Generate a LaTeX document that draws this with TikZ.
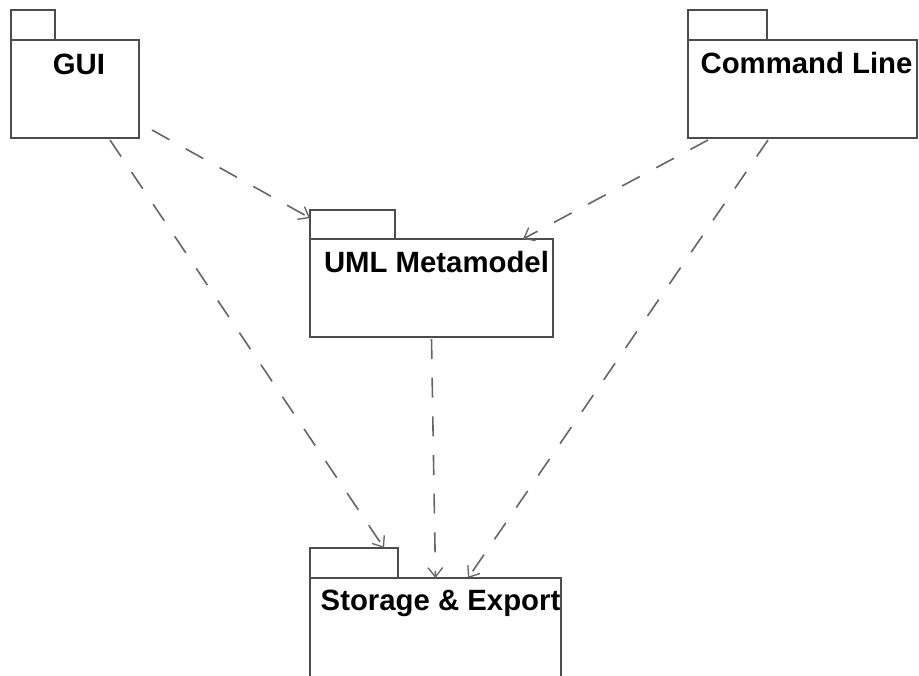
\documentclass[tikz,border=0pt]{standalone}
\usepackage{fontspec}
\setmainfont{Liberation Sans}
\usetikzlibrary{positioning,calc,arrows.meta}

\begin{document}
\begin{tikzpicture}[x=0.75pt, y=-0.75pt,
  pkgbody/.style={draw=black!70, line width=1pt, rectangle, inner sep=0pt, outer sep=0pt, anchor=north west, minimum height=73.5pt},
  pkgtab/.style={draw=black!70, line width=1pt, rectangle, inner sep=0pt, outer sep=0pt, anchor=south west, minimum height=22.5pt},
  pkgname/.style={inner sep=0pt, anchor=base, font=\fontsize{22}{26}\selectfont\bfseries},
  dep/.style={draw=black!60, line width=1.2pt, dash pattern=on 15pt off 14pt, -{Straight Barb[length=7pt, width=11pt, line width=1pt]}}]
  \clip (0,0) rectangle (919,675);

  % GUI
  \node[pkgbody, minimum width=96pt] (gui) at (11,40) {};
  \node[pkgtab, minimum width=33pt] (guitab) at (gui.north west) {};
  \node[pkgname] (guiname) at ($(gui.north)+(4,34)$) {GUI};

  % Command Line
  \node[pkgbody, minimum width=171.75pt] (cmd) at (688,40) {};
  \node[pkgtab, minimum width=59.25pt] (cmdtab) at (cmd.north west) {};
  \node[pkgname] (cmdname) at ($(cmd.north)+(4,33)$) {Command Line};

  % UML Metamodel
  \node[pkgbody, minimum width=182.25pt] (uml) at (310,239) {};
  \node[pkgtab, minimum width=63.75pt, minimum height=21.75pt] (umltab) at (uml.north west) {};
  \node[pkgname] (umlname) at ($(uml.north)+(5,33)$) {UML Metamodel};

  % Storage & Export
  \node[pkgbody, minimum width=188.25pt, minimum height=76pt] (sto) at (310,578) {};
  \node[pkgtab, minimum width=66pt] (stotab) at (sto.north west) {};
  \node[pkgname] (stoname) at ($(sto.north)+(5,32)$) {Storage \& Export};

  % dependencies
  \draw[dep] ($(gui.south east)+(13,-8)$) -- ($(umltab.north west)+(0,8)$);
  \draw[dep] ($(gui.south east)+(-29,2)$) -- ($(stotab.north east)+(-14,0)$);
  \draw[dep] ($(cmd.south west)+(20,2)$) -- ($(uml.north east)+(-30,0)$);
  \draw[dep] ($(cmd.south west)+(80,2)$) -- ($(sto.north west)+(158,0)$);
  \draw[dep] ($(uml.south)+(0,2)$) -- ($(sto.north)+(0,0)$);
\end{tikzpicture}
\end{document}
